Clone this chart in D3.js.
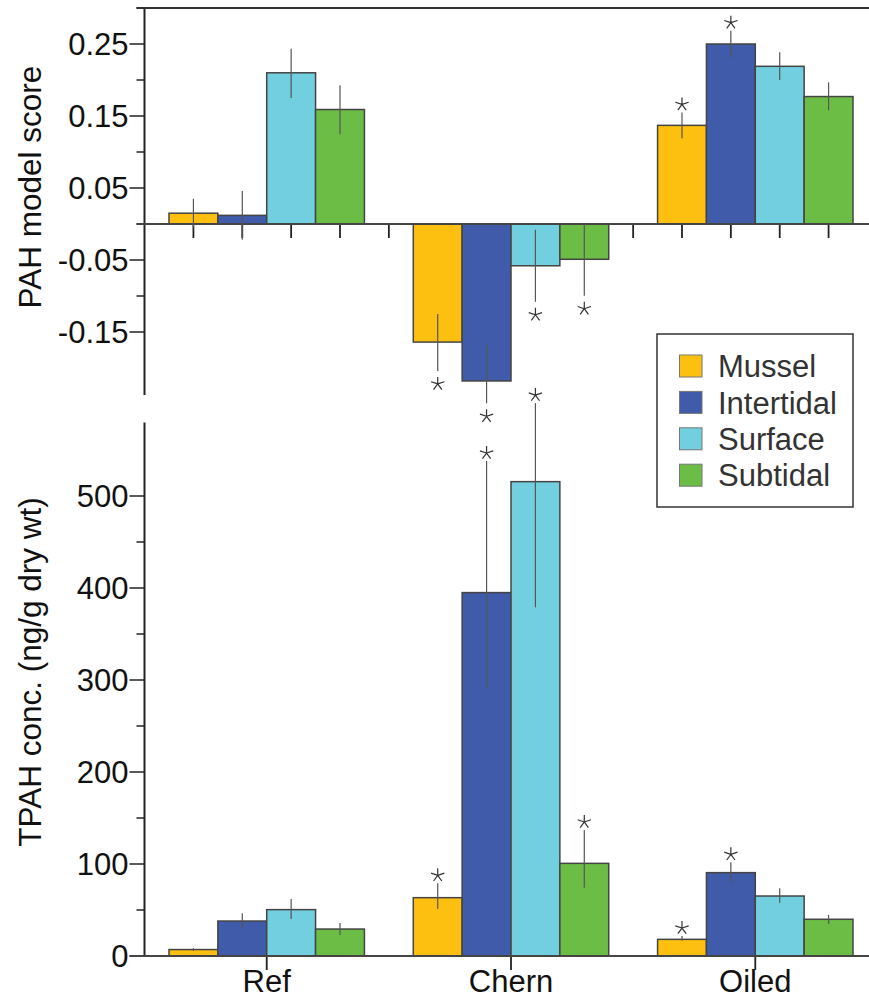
<!DOCTYPE html>
<html><head><meta charset="utf-8">
<script src="https://cdn.jsdelivr.net/npm/d3@7"></script>
<style>body{margin:0;background:#fff}svg{display:block}text{font-family:"Liberation Sans",Arial,Helvetica,sans-serif}</style>
</head><body>
<script>
const groups = ["Ref", "Chern", "Oiled"];
const series = ["Mussel", "Intertidal", "Surface", "Subtidal"];
const colors = ["#FDC010", "#3F5BA9", "#72CFDF", "#6CBD45"];

// Top panel: PAH model score (mean, lower & upper error ends)
const scoreMean = [[0.015, -0.164, 0.137], [0.012, -0.218, 0.250], [0.210, -0.058, 0.219], [0.159, -0.049, 0.177]];
const scoreLo   = [[-0.005, -0.204, 0.119], [-0.022, -0.249, 0.2315], [0.175, -0.108, 0.200], [0.1245, -0.0996, 0.158]];
const scoreHi   = [[0.035, -0.125, 0.155], [0.046, -0.168, 0.2685], [0.2435, -0.008, 0.2385], [0.1926, 0.0, 0.1968]];
const scoreStar = [[0, 1, 1], [0, 1, 1], [0, 1, 0], [0, 1, 0]];
const scoreTicks = [0.25, 0.15, 0.05, -0.05, -0.15];
const scoreMinor = [0.3, 0.2, 0.1, 0, -0.1];

// Bottom panel: TPAH concentration
const concMean = [[7, 63.4, 18.1], [38, 395, 90.6], [50.4, 515.6, 65.2], [29.3, 100.7, 39.9]];
const concLo   = [[5.5, 51, 16.6], [30, 291, 80.4], [40.2, 379, 57.9], [22.8, 74.2, 34.8]];
const concHi   = [[8.5, 79, 21.7], [46.4, 538, 101.8], [62, 601, 73.6], [35.9, 137, 44.6]];
const concStar = [[0, 1, 1], [0, 1, 1], [0, 1, 0], [0, 1, 0]];
const concTicks = [0, 100, 200, 300, 400, 500];
const concMinor = [50, 150, 250, 350, 450];

const W = 869, H = 999;
const svg = d3.select("body").append("svg").attr("width", W).attr("height", H);
const FS = 31;
const axisX = 144.5;

const x0 = d3.scaleBand().domain(groups).range([169, 853]).paddingInner(0.2).paddingOuter(0);
const x1 = d3.scaleBand().domain(series).range([0, x0.bandwidth()]);
const slot = x1.bandwidth();

const yTop = d3.scaleLinear().domain([-0.2375, 0.3]).range([395, 8]);
const yBot = d3.scaleLinear().domain([0, 580]).range([956, 422.4]);

function star(g, cx, cy) {
  const r = 7;
  let d = "";
  for (let k = 0; k < 5; k++) {
    const a = (-90 + k * 72) * Math.PI / 180;
    d += `M${cx},${cy}L${cx + r * Math.cos(a)},${cy + r * Math.sin(a)}`;
  }
  g.append("path").attr("d", d).attr("stroke", "#333").attr("stroke-width", 1.2).attr("fill", "none");
}

function panel(y, mean, lo, hi, stars, ticks, minor, fmt, title, titleY, isTop) {
  const g = svg.append("g");
  const [r0, r1] = y.range();
  g.append("line").attr("x1", axisX).attr("x2", axisX).attr("y1", r1).attr("y2", r0)
    .attr("stroke", "#222").attr("stroke-width", 2);
  ticks.forEach(t => {
    g.append("line").attr("x1", axisX - 15).attr("x2", axisX).attr("y1", y(t)).attr("y2", y(t))
      .attr("stroke", "#222").attr("stroke-width", 1.5);
    g.append("text").attr("x", axisX - 16).attr("y", y(t)).attr("dy", "0.36em")
      .attr("text-anchor", "end").attr("font-size", FS).attr("fill", "#111").text(fmt(t));
  });
  minor.forEach(t => {
    g.append("line").attr("x1", axisX - 8).attr("x2", axisX).attr("y1", y(t)).attr("y2", y(t))
      .attr("stroke", "#222").attr("stroke-width", 1.5);
  });
  g.append("text").attr("transform", `translate(41,${titleY}) rotate(-90)`)
    .attr("text-anchor", "middle").attr("font-size", FS + 0.5).attr("fill", "#111").text(title);

  if (isTop) {
    g.append("line").attr("x1", axisX - 8).attr("x2", W).attr("y1", y(0.3)).attr("y2", y(0.3))
      .attr("stroke", "#333").attr("stroke-width", 2);
    const centers = [];
    groups.forEach((gr, gi) => {
      series.forEach(s => centers.push(x0(gr) + x1(s) + slot / 2));
      if (gi < groups.length - 1) centers.push(x0(gr) + x0.bandwidth() + slot / 2);
    });
    centers.forEach(c => g.append("line").attr("x1", c).attr("x2", c).attr("y1", y(0)).attr("y2", y(0) + 14)
      .attr("stroke", "#222").attr("stroke-width", 1.8));
  } else {
    groups.forEach(gr => {
      const c = x0(gr) + x0.bandwidth() / 2;
      g.append("line").attr("x1", c).attr("x2", c).attr("y1", y(0)).attr("y2", y(0) + 14)
        .attr("stroke", "#222").attr("stroke-width", 1.8);
      g.append("text").attr("x", c).attr("y", 992).attr("text-anchor", "middle")
        .attr("font-size", FS).attr("fill", "#111").text(gr);
    });
  }

  series.forEach((s, si) => {
    groups.forEach((gr, gi) => {
      const v = mean[si][gi];
      const bx = x0(gr) + x1(s);
      g.append("rect").attr("x", bx).attr("width", slot)
        .attr("y", Math.min(y(v), y(0))).attr("height", Math.abs(y(v) - y(0)))
        .attr("fill", colors[si]).attr("stroke", "#444").attr("stroke-width", 1.5);
    });
  });
  g.append("line").attr("x1", axisX - (isTop ? 8 : 15)).attr("x2", W).attr("y1", y(0)).attr("y2", y(0))
    .attr("stroke", "#444").attr("stroke-width", 2.2);
  series.forEach((s, si) => {
    groups.forEach((gr, gi) => {
      const cx = x0(gr) + x1(s) + slot / 2;
      g.append("line").attr("x1", cx).attr("x2", cx).attr("y1", y(lo[si][gi])).attr("y2", y(hi[si][gi]))
        .attr("stroke", "#555").attr("stroke-width", 1.2);
      if (stars[si][gi]) {
        if (mean[si][gi] >= 0) star(g, cx, y(hi[si][gi]) - 8);
        else star(g, cx, y(lo[si][gi]) + 13);
      }
    });
  });
}

panel(yTop, scoreMean, scoreLo, scoreHi, scoreStar, scoreTicks, scoreMinor,
  d => d3.format(".2f")(d).replace("\u2212", "-"), "PAH model score", 187, true);
panel(yBot, concMean, concLo, concHi, concStar, concTicks, concMinor,
  d => d3.format("d")(d), "TPAH conc. (ng/g dry wt)", 672, false);

const lg = svg.append("g");
lg.append("rect").attr("x", 657).attr("y", 334).attr("width", 196).attr("height", 173)
  .attr("fill", "#fff").attr("stroke", "#333").attr("stroke-width", 1.5);
series.forEach((s, i) => {
  const yy = 355 + i * 36.4;
  lg.append("rect").attr("x", 679.5).attr("y", yy).attr("width", 22.5).attr("height", 22)
    .attr("fill", colors[i]).attr("stroke", "#777").attr("stroke-width", 1);
  lg.append("text").attr("x", 718).attr("y", yy + 11).attr("dy", "0.36em")
    .attr("font-size", FS).attr("fill", "#333").text(s);
});
</script>
</body></html>
